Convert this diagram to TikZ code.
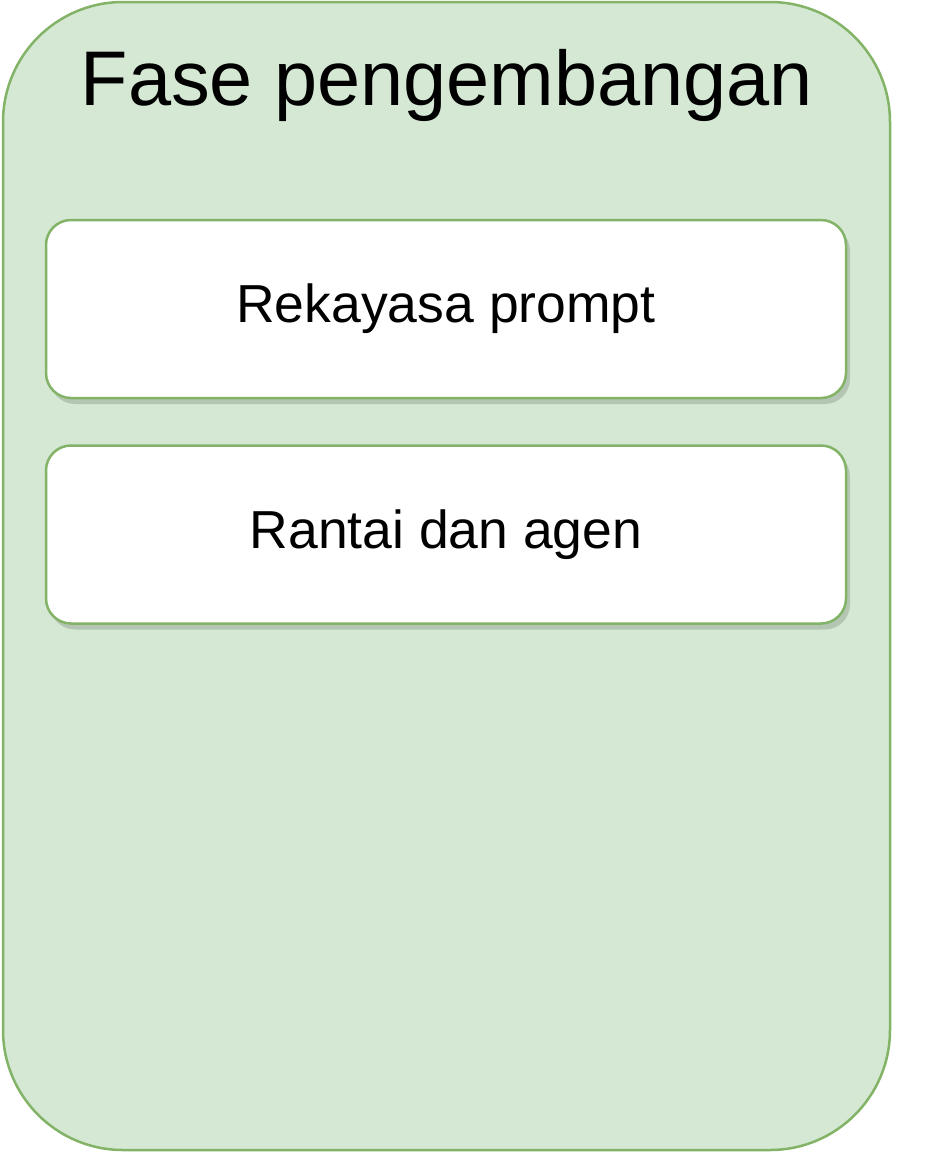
\documentclass[tikz,border=0pt]{standalone}
\usepackage{fontspec}
\setmainfont{Liberation Sans}
\usetikzlibrary{positioning,shadows}
\definecolor{phasefill}{HTML}{D5E8D4}
\definecolor{phaseline}{HTML}{82B366}

\begin{document}
\begin{tikzpicture}[x=1pt,y=1pt,
    phase/.style={draw=phaseline, fill=phasefill, line width=2.5pt, rounded corners=120pt},
    taskbox/.style={rectangle, draw=phaseline, fill=white, line width=2.5pt, rounded corners=25pt,
        minimum width=800pt, minimum height=178pt, font=\fontsize{53.5}{62}\selectfont,
        drop shadow={shadow xshift=4pt, shadow yshift=-6pt, opacity=0.15, fill=black}},
    node distance=45pt
]
    \useasboundingbox (0,0) rectangle (928,-1152);
    \draw[phase] (3,-2) rectangle (890,-1150);
    \node[anchor=base, font=\fontsize{77.5}{92}\selectfont] (title) at (447,-105) {Fase pengembangan};
    \node[taskbox] (prompt) at (446,-309) {Rekayasa prompt};
    \node[taskbox, below=of prompt] (chain) {Rantai dan agen};
\end{tikzpicture}
\end{document}
